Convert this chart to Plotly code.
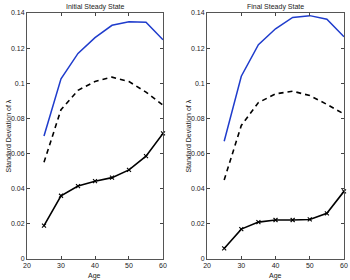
import plotly.graph_objects as go

ages = [25, 30, 35, 40, 45, 50, 55, 60]

init_blue = [0.070, 0.1025, 0.117, 0.126, 0.133, 0.135, 0.1348, 0.1248]
init_dash = [0.055, 0.085, 0.096, 0.101, 0.1035, 0.101, 0.095, 0.0875]
init_black = [0.019, 0.036, 0.0415, 0.0443, 0.0463, 0.0507, 0.0585, 0.0715]

final_blue = [0.067, 0.104, 0.122, 0.131, 0.1375, 0.1385, 0.1365, 0.1265]
final_dash = [0.045, 0.076, 0.089, 0.094, 0.0955, 0.093, 0.088, 0.0825]
final_black = [0.006, 0.017, 0.021, 0.0222, 0.0222, 0.0225, 0.026, 0.0385]

titles = ["Initial Steady State", "Final Steady State"]
xtitle = "Age"
ytitle = "Standard Deviation of λ"
xticks = [20, 30, 40, 50, 60]
yticks = [0, 0.02, 0.04, 0.06, 0.08, 0.1, 0.12, 0.14]
ytext = ["0", "0.02", "0.04", "0.06", "0.08", "0.1", "0.12", "0.14"]

fig = go.Figure()
panels = [(init_blue, init_dash, init_black), (final_blue, final_dash, final_black)]
for i, (b, d, k) in enumerate(panels):
    xa = "x" if i == 0 else "x2"
    ya = "y" if i == 0 else "y2"
    fig.add_trace(go.Scatter(x=ages, y=b, mode="lines", line=dict(color="#1f3ccc", width=1.5),
                             xaxis=xa, yaxis=ya, showlegend=False, cliponaxis=False))
    fig.add_trace(go.Scatter(x=ages, y=d, mode="lines", line=dict(color="black", width=1.6, dash="5px,4px"),
                             xaxis=xa, yaxis=ya, showlegend=False, cliponaxis=False))
    fig.add_trace(go.Scatter(x=ages, y=k, mode="lines+markers", line=dict(color="black", width=1.6),
                             marker=dict(symbol="x-thin-open", size=4, line=dict(color="black", width=1.1)),
                             xaxis=xa, yaxis=ya, showlegend=False, cliponaxis=False))

axfont = dict(family="Liberation Sans, Arial", size=7, color="#222")
common_x = dict(range=[20, 60], tickvals=xticks, ticks="inside", ticklen=3, mirror="ticks",
                showline=True, linecolor="#555", linewidth=1, showgrid=False, zeroline=False,
                automargin=False, tickfont=axfont)
common_y = dict(range=[0, 0.14], tickvals=yticks, ticktext=ytext, ticks="inside", ticklen=3, mirror="ticks",
                showline=True, linecolor="#555", linewidth=1, showgrid=False, zeroline=False,
                automargin=False, tickfont=axfont)

xl = [0.0, 0.429]
xr = [0.568, 1.0]

annotations = []
for t, dom in zip(titles, [xl, xr]):
    c = (dom[0] + dom[1]) / 2
    annotations.append(dict(text=t, x=c, y=1.0, xref="paper", yref="paper", xanchor="center",
                            yanchor="bottom", showarrow=False, font=axfont, yshift=0))
    annotations.append(dict(text=xtitle, x=c, y=0.0, xref="paper", yref="paper", xanchor="center",
                            yanchor="top", showarrow=False, font=axfont, yshift=-11))
    annotations.append(dict(text=ytitle, x=dom[0], y=0.5, xref="paper", yref="paper", xanchor="right",
                            yanchor="middle", showarrow=False, font=axfont, textangle=-90, xshift=-14))

fig.update_layout(
    width=350, height=280, autosize=False,
    margin=dict(l=27, r=6, t=13, b=21, autoexpand=False),
    plot_bgcolor="white", paper_bgcolor="white",
    xaxis=dict(domain=xl, anchor="y", **common_x),
    yaxis=dict(domain=[0.0, 1.0], anchor="x", **common_y),
    xaxis2=dict(domain=xr, anchor="y2", **common_x),
    yaxis2=dict(domain=[0.0, 1.0], anchor="x2", **common_y),
    annotations=annotations,
)

fig.write_html("out.html", config={"displayModeBar": False},
               post_script="document.body.style.margin='0';document.body.style.padding='0';")
